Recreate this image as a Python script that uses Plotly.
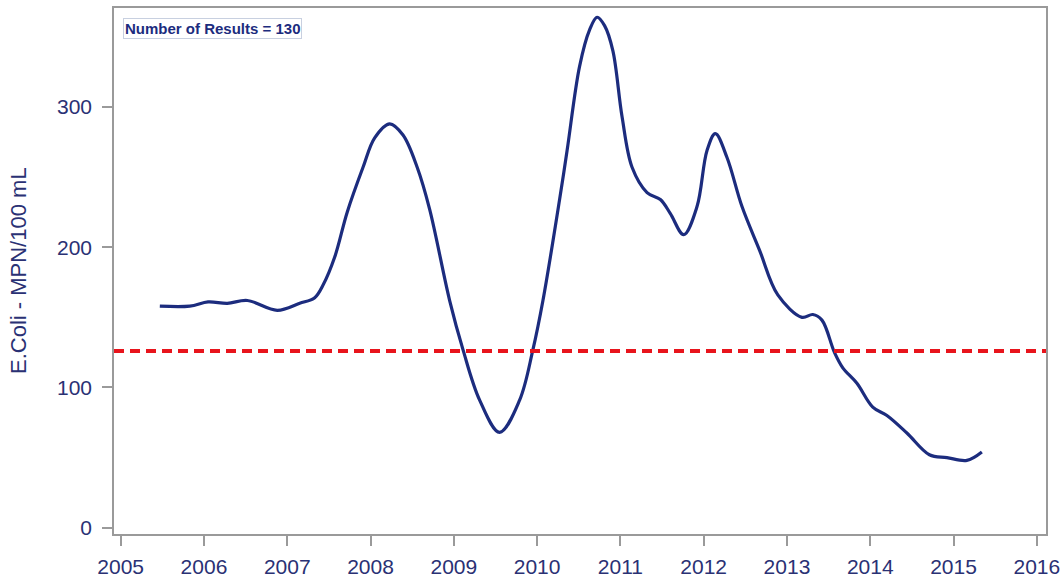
import plotly.graph_objects as go

# Smoothed E. coli trend (MPN/100 mL) by decimal year
years = [2005.47, 2005.83, 2006.05, 2006.28, 2006.52, 2006.88, 2007.15, 2007.33,
         2007.43, 2007.57, 2007.72, 2007.91, 2008.05, 2008.23, 2008.39, 2008.56,
         2008.71, 2008.95, 2009.11, 2009.31, 2009.55, 2009.79, 2009.95, 2010.07,
         2010.27, 2010.36, 2010.51, 2010.63, 2010.72, 2010.81, 2010.91, 2011.02,
         2011.14, 2011.32, 2011.48, 2011.60, 2011.76, 2011.92, 2012.04, 2012.14,
         2012.28, 2012.46, 2012.67, 2012.89, 2013.18, 2013.31, 2013.42, 2013.57,
         2013.67, 2013.84, 2014.03, 2014.20, 2014.44, 2014.71, 2014.92, 2015.16,
         2015.34]
ecoli = [158, 158, 161, 160, 162, 155, 160, 164,
         173, 193, 225, 257, 278, 288, 280, 257,
         227, 162, 127, 91, 68, 91, 127, 162,
         234, 269, 329, 355, 364, 358, 340, 293,
         257, 239, 234, 224, 209, 229, 269, 281,
         264, 229, 198, 166, 150, 152, 148, 125,
         114, 103, 86, 80, 67.5, 52, 50, 48,
         54]

standard = 126
n_results = 130
x_ticks = list(range(2005, 2017))
y_ticks = [0, 100, 200, 300]

navy = "#1c2c7e"
label_color = "#2a3174"
axis_gray = "#9a9a9a"
font_family = "Arial, Liberation Sans, sans-serif"

fig = go.Figure()

fig.add_trace(go.Scatter(
    x=years, y=ecoli, mode="lines",
    line=dict(color=navy, width=3.2, shape="spline", smoothing=1.0),
    showlegend=False, hoverinfo="skip",
))

# Reference standard line
fig.add_shape(
    type="line", xref="paper", yref="y", x0=0, x1=1, y0=standard, y1=standard,
    line=dict(color="#e8141c", width=4, dash="10px,6px"),
)

fig.add_annotation(
    xref="paper", yref="paper", x=0.0097, y=0.981, xanchor="left", yanchor="top",
    text=f"<b>Number of Results = {n_results}</b>", showarrow=False,
    font=dict(family=font_family, size=15, color=navy),
    bordercolor="#c8d0e0", borderwidth=1, borderpad=1, bgcolor="white",
)

# Y-axis title
fig.add_annotation(
    xref="paper", yref="paper", x=-0.103, y=0.5, xanchor="center", yanchor="middle",
    text="E.Coli - MPN/100 mL", textangle=-90, showarrow=False,
    font=dict(family=font_family, size=22, color=label_color),
)

fig.update_layout(
    width=1064, height=583,
    margin=dict(l=114, r=18, t=8, b=49),
    paper_bgcolor="white", plot_bgcolor="white",
    font=dict(family=font_family, color=label_color),
)

fig.update_xaxes(
    range=[2004.92, 2016.11], tickvals=x_ticks, ticktext=[str(v) for v in x_ticks],
    showgrid=False, zeroline=False, showline=True, linecolor=axis_gray, linewidth=1.5,
    mirror=True, ticks="outside", ticklen=10, tickwidth=1.5, tickcolor=axis_gray,
    tickfont=dict(size=21, color=label_color), ticklabelstandoff=3, automargin=False,
)
fig.update_yaxes(
    range=[-4.5, 370.6], tickvals=y_ticks,
    showgrid=False, zeroline=False, showline=True, linecolor=axis_gray, linewidth=1.5,
    mirror=True, ticks="outside", ticklen=10, tickwidth=1.5, tickcolor=axis_gray,
    tickfont=dict(size=21, color=label_color), ticklabelstandoff=6, automargin=False,
)

fig.write_html("out.html")
